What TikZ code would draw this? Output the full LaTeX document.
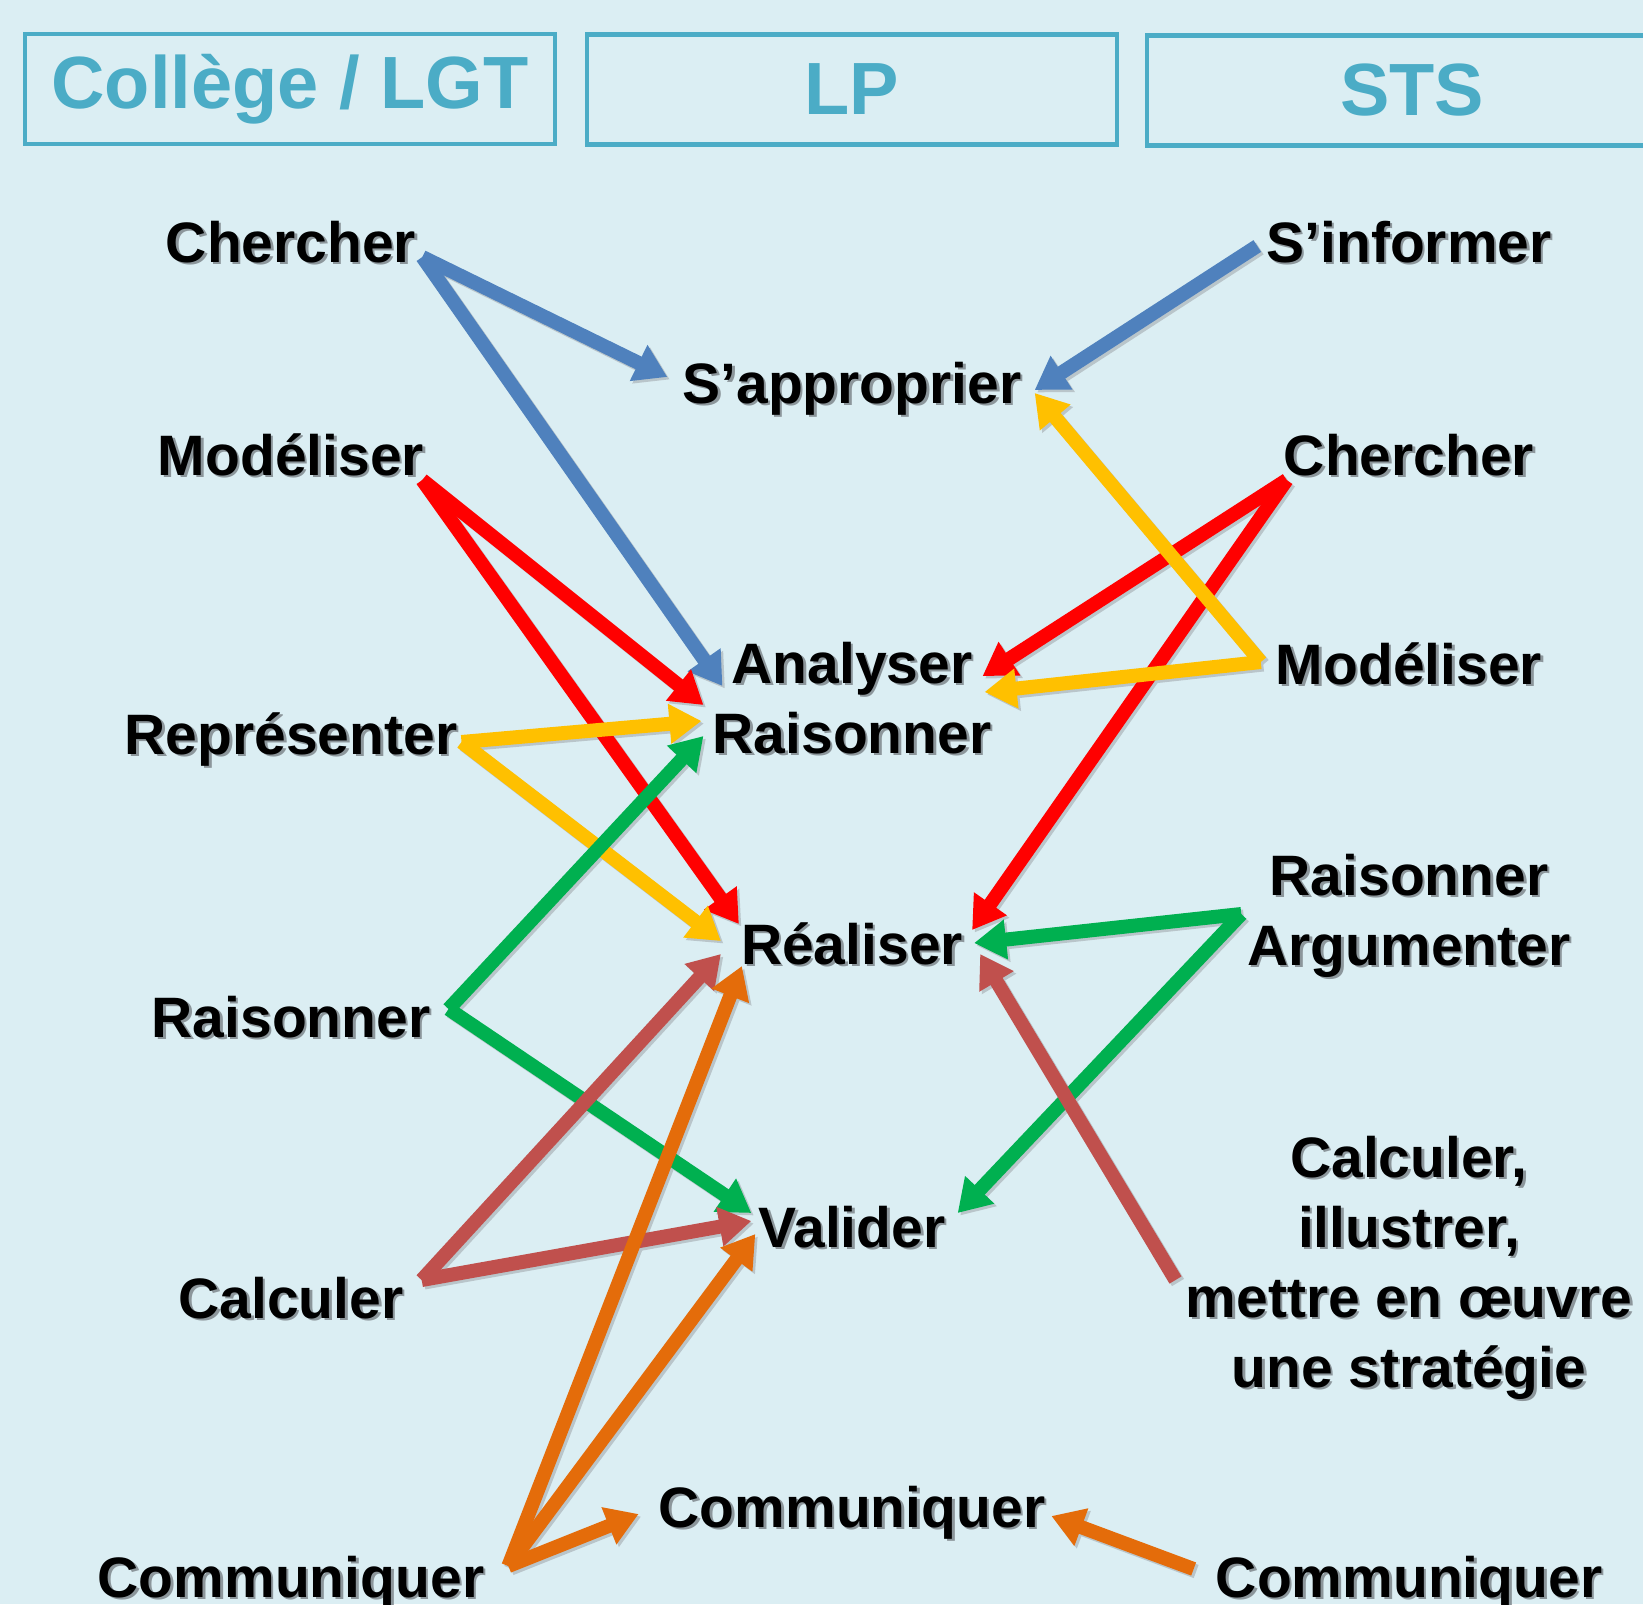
\documentclass[tikz,border=0pt]{standalone}
\usepackage{fontspec}
\setmainfont{Liberation Sans}
\usetikzlibrary{arrows.meta,calc}
\definecolor{bgc}{RGB}{219,238,243}
\definecolor{hdrc}{RGB}{75,172,198}
\definecolor{cblue}{RGB}{79,129,189}
\definecolor{cred}{RGB}{255,0,0}
\definecolor{cyel}{RGB}{255,192,0}
\definecolor{cgreen}{RGB}{0,176,80}
\definecolor{cbrown}{RGB}{192,80,77}
\definecolor{corange}{RGB}{228,108,10}
\definecolor{shc}{RGB}{140,150,155}
\definecolor{ashc}{RGB}{185,197,202}
\newcommand\shd[1]{\leavevmode\rlap{\kern2.5pt\raisebox{-2.5pt}{\textcolor{shc}{#1}}}#1}
\newcommand\mlines[1]{\begin{tabular}[t]{@{}c@{}}#1\end{tabular}}
\tikzset{
  lbl/.style={anchor=base, inner sep=0pt, font=\fontsize{57}{70}\selectfont\bfseries, text=black},
  hdr/.style={draw=hdrc, line width=4.5pt, minimum width=530pt, minimum height=110pt, inner sep=0pt,
              font=\fontsize{74}{88}\selectfont\bfseries, text=hdrc},
  conn/.style={draw=#1, line width=14pt, -{Triangle[length=32pt,width=38pt]}},
  connsh/.style={draw=ashc, line width=14pt, -{Triangle[length=32pt,width=38pt]}}
}
\begin{document}
\begin{tikzpicture}[x=1pt,y=-1pt]
\useasboundingbox (0,0) rectangle (1643,1604);
\fill[bgc] (0,0) rectangle (1643,1604);
\clip (0,0) rectangle (1643,1604);

% headers
\node[hdr] (h1) at (290,89) {Collège / LGT};
\node[hdr] (h2) at (852,89.5) {LP};
\node[hdr] (h3) at (1412,90.5) {STS};

% left column
\node[lbl] (lch) at (291,262) {\shd{Chercher}};
\node[lbl] (lmo) at (291,475) {\shd{Modéliser}};
\node[lbl] (lre) at (291,754) {\shd{Représenter}};
\node[lbl] (lra) at (291,1037) {\shd{Raisonner}};
\node[lbl] (lca) at (291,1318) {\shd{Calculer}};
\node[lbl] (lco) at (291,1597) {\shd{Communiquer}};

% centre column
\node[lbl] (capp) at (852,403) {\shd{S’approprier}};
\node[lbl] (cana) at (852,683) {\mlines{\shd{Analyser}\\\shd{Raisonner}}};
\node[lbl] (crea) at (852,964) {\shd{Réaliser}};
\node[lbl] (cval) at (852,1247) {\shd{Valider}};
\node[lbl] (ccom) at (852,1527) {\shd{Communiquer}};

% right column
\node[lbl] (rinf) at (1409,262) {\shd{S’informer}};
\node[lbl] (rch) at (1409,475) {\shd{Chercher}};
\node[lbl] (rmo) at (1409,684) {\shd{Modéliser}};
\node[lbl] (rra) at (1409,895) {\mlines{\shd{Raisonner}\\\shd{Argumenter}}};
\node[lbl] (rcal) at (1409,1177) {\mlines{\shd{Calculer,}\\\shd{illustrer,}\\\shd{mettre en œuvre}\\\shd{une stratégie}}};
\node[lbl] (rco) at (1409,1597) {\shd{Communiquer}};

% connector end points, attached to the nodes
\coordinate (lchO) at ($(lch.base east)+(6,-5)$);
\coordinate (lmoO) at ($(lmo.base east)+(-2,5)$);
\coordinate (lreO) at ($(lre.base east)+(4,-12)$);
\coordinate (lraO) at ($(lra.base east)+(18,-28)$);
\coordinate (lcaO) at ($(lca.base east)+(18,-38)$);
\coordinate (lcoO) at ($(lco.base east)+(24,-31)$);
\coordinate (rinfO) at ($(rinf.base west)+(-9,-16)$);
\coordinate (rchO) at ($(rch.base west)+(3,5)$);
\coordinate (rmoO) at ($(rmo.base west)+(-15,-22)$);
\coordinate (rraO) at ($(rra.base west)+(-6,19)$);
\coordinate (rcalO) at ($(rcal.base west)+(-10,103)$);
\coordinate (rcoO) at ($(rco.base west)+(-22,-28)$);

\coordinate (cappW) at ($(capp.base west)+(-15,-26)$);
\coordinate (cappE1) at ($(capp.base east)+(13,-13)$);
\coordinate (cappE2) at ($(capp.base east)+(13,-10)$);
\coordinate (canaW1) at ($(cana.base west)+(10,3)$);
\coordinate (canaW2) at ($(cana.base west)+(-9,22)$);
\coordinate (canaW3) at ($(cana.base west)+(-11,38)$);
\coordinate (canaW4) at ($(cana.base west)+(-9,53)$);
\coordinate (canaE1) at ($(cana.base east)+(-9,-7)$);
\coordinate (canaE2) at ($(cana.base east)+(-7,9)$);
\coordinate (creaW1) at ($(crea.base west)+(-2,-40)$);
\coordinate (creaW2) at ($(crea.base west)+(-20,-23)$);
\coordinate (creaW3) at ($(crea.base west)+(-20,-10)$);
\coordinate (creaW4) at ($(crea.base west)+(1,2)$);
\coordinate (creaE1) at ($(crea.base east)+(9,-34)$);
\coordinate (creaE2) at ($(crea.base east)+(11,-21)$);
\coordinate (creaE3) at ($(crea.base east)+(17,-10)$);
\coordinate (cvalW1) at ($(cval.base west)+(-7,-34)$);
\coordinate (cvalW2) at ($(cval.base west)+(-7,-26)$);
\coordinate (cvalW3) at ($(cval.base west)+(-3,-13)$);
\coordinate (cvalE1) at ($(cval.base east)+(12,-34)$);
\coordinate (ccomW) at ($(ccom.base west)+(-20,-13)$);
\coordinate (ccomE) at ($(ccom.base east)+(6,-11)$);

% soft shadows of the connectors
\begin{scope}[transform canvas={shift={(2.5pt,-2.5pt)}}]
\foreach \a/\b in {lchO/cappW,lchO/canaW1,rinfO/cappE1,lmoO/canaW2,lmoO/creaW1,rchO/canaE1,rchO/creaE1,
  lreO/canaW3,lreO/creaW2,rmoO/cappE2,rmoO/canaE2,lraO/canaW4,lraO/cvalW1,rraO/creaE2,rraO/cvalE1,
  lcaO/creaW3,lcaO/cvalW2,rcalO/creaE3,lcoO/creaW4,lcoO/cvalW3,lcoO/ccomW,rcoO/ccomE}
  \draw[connsh] (\a) -- (\b);
\end{scope}

% blue
\draw[conn=cblue] (lchO) -- (cappW);
\draw[conn=cblue] (lchO) -- (canaW1);
\draw[conn=cblue] (rinfO) -- (cappE1);
% red
\draw[conn=cred] (lmoO) -- (canaW2);
\draw[conn=cred] (lmoO) -- (creaW1);
\draw[conn=cred] (rchO) -- (canaE1);
\draw[conn=cred] (rchO) -- (creaE1);
% yellow
\draw[conn=cyel] (lreO) -- (canaW3);
\draw[conn=cyel] (lreO) -- (creaW2);
\draw[conn=cyel] (rmoO) -- (cappE2);
\draw[conn=cyel] (rmoO) -- (canaE2);
% green
\draw[conn=cgreen] (lraO) -- (canaW4);
\draw[conn=cgreen] (lraO) -- (cvalW1);
\draw[conn=cgreen] (rraO) -- (creaE2);
\draw[conn=cgreen] (rraO) -- (cvalE1);
% brown red
\draw[conn=cbrown] (lcaO) -- (creaW3);
\draw[conn=cbrown] (lcaO) -- (cvalW2);
\draw[conn=cbrown] (rcalO) -- (creaE3);
% orange
\draw[conn=corange] (lcoO) -- (creaW4);
\draw[conn=corange] (lcoO) -- (cvalW3);
\draw[conn=corange] (lcoO) -- (ccomW);
\draw[conn=corange] (rcoO) -- (ccomE);
\end{tikzpicture}
\end{document}
